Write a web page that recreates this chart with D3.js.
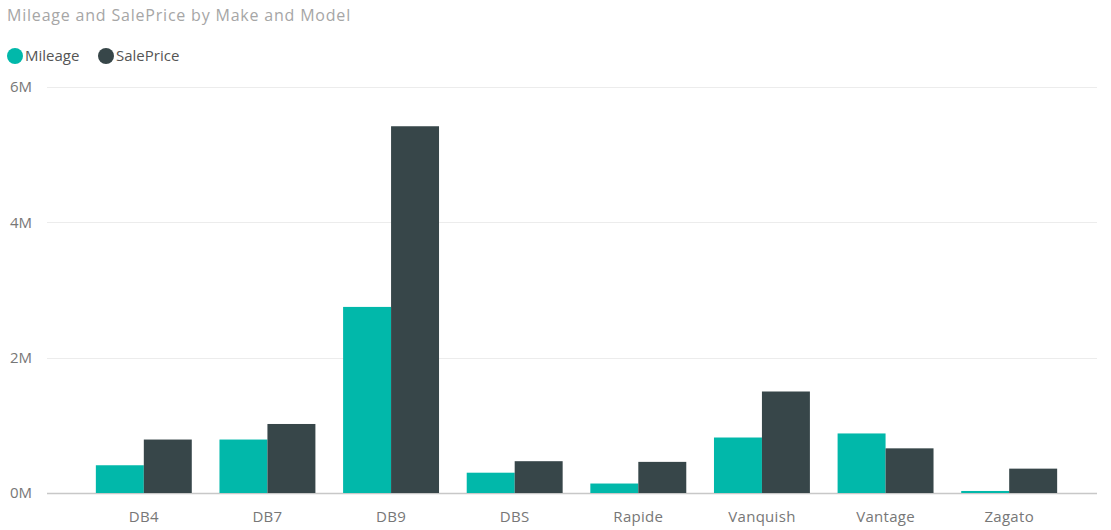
<!DOCTYPE html>
<html>
<head>
<meta charset="utf-8">
<script src="https://cdn.jsdelivr.net/npm/d3@7"></script>
<style>
  html, body { margin: 0; padding: 0; background: #fff; }
  svg { display: block; font-family: "Open Sans", "DejaVu Sans", sans-serif; }
</style>
</head>
<body>
<svg id="chart" width="1111" height="530"></svg>
<script>
// Car models and the two measures plotted per model
const models = ["DB4", "DB7", "DB9", "DBS", "Rapide", "Vanquish", "Vantage", "Zagato"];
const mileage = [410000, 790000, 2750000, 300000, 140000, 820000, 880000, 30000];
const salePrice = [790000, 1020000, 5420000, 470000, 460000, 1500000, 660000, 360000];
const seriesNames = ["Mileage", "SalePrice"];
const yTicks = [0, 2000000, 4000000, 6000000];

const colors = { Mileage: "#01B8AA", SalePrice: "#374649" };

const rows = models.map((m, i) => ({ model: m, Mileage: mileage[i], SalePrice: salePrice[i] }));

const svg = d3.select("#chart");

const plot = { left: 47, right: 1097, top: 87, bottom: 493 };

const x0 = d3.scaleBand()
  .domain(models)
  .range([82, 1071])
  .paddingInner(0.224)
  .paddingOuter(0.112);

const x1 = d3.scaleBand()
  .domain(seriesNames)
  .range([0, x0.bandwidth()]);

const y = d3.scaleLinear()
  .domain([0, 6000000])
  .range([plot.bottom, plot.top]);

// Title
svg.append("text")
  .attr("x", 7)
  .attr("y", 21)
  .attr("fill", "#a6a6a6")
  .attr("font-size", 16)
  .attr("letter-spacing", 0.8)
  .text("Mileage and SalePrice by Make and Model");

// Legend
const legendX = [15, 106];
const legend = svg.append("g");
seriesNames.forEach((name, i) => {
  legend.append("circle")
    .attr("cx", legendX[i])
    .attr("cy", 56)
    .attr("r", 8)
    .attr("fill", colors[name]);
  legend.append("text")
    .attr("x", legendX[i] + 10)
    .attr("y", 61)
    .attr("fill", "#555")
    .attr("font-size", 15)
    .text(name);
});

// Gridlines
svg.append("g")
  .selectAll("line")
  .data(yTicks)
  .join("line")
  .attr("x1", plot.left)
  .attr("x2", plot.right)
  .attr("y1", d => Math.round(y(d)) + 0.5)
  .attr("y2", d => Math.round(y(d)) + 0.5)
  .attr("stroke", d => d === 0 ? "#c8c8c8" : "#ececec")
  .attr("stroke-width", d => d === 0 ? 1.5 : 1);

// Y axis labels
const yAxis = d3.axisLeft(y)
  .tickValues(yTicks)
  .tickSize(0)
  .tickPadding(0)
  .tickFormat(d => d3.format(".0f")(d / 1e6) + "M");

svg.append("g")
  .attr("transform", "translate(32,0)")
  .call(yAxis)
  .call(g => g.select(".domain").remove())
  .call(g => g.selectAll("text")
    .attr("fill", "#777")
    .attr("font-size", 15)
    .attr("font-family", "\"Open Sans\", \"DejaVu Sans\", sans-serif"));

// Bars
svg.append("g")
  .selectAll("g")
  .data(rows)
  .join("g")
  .attr("transform", d => `translate(${x0(d.model)},0)`)
  .selectAll("rect")
  .data(d => seriesNames.map(k => ({ key: k, value: d[k] })))
  .join("rect")
  .attr("x", d => x1(d.key))
  .attr("width", x1.bandwidth())
  .attr("y", d => y(d.value))
  .attr("height", d => y(0) - y(d.value))
  .attr("fill", d => colors[d.key]);

// X axis labels
const xAxis = d3.axisBottom(x0).tickSize(0).tickPadding(0);
svg.append("g")
  .attr("transform", `translate(0,${plot.bottom + 18})`)
  .call(xAxis)
  .call(g => g.select(".domain").remove())
  .call(g => g.selectAll("text")
    .attr("fill", "#777")
    .attr("font-size", 15)
    .attr("letter-spacing", 0.3)
    .attr("font-family", "\"Open Sans\", \"DejaVu Sans\", sans-serif"));
</script>
</body>
</html>
